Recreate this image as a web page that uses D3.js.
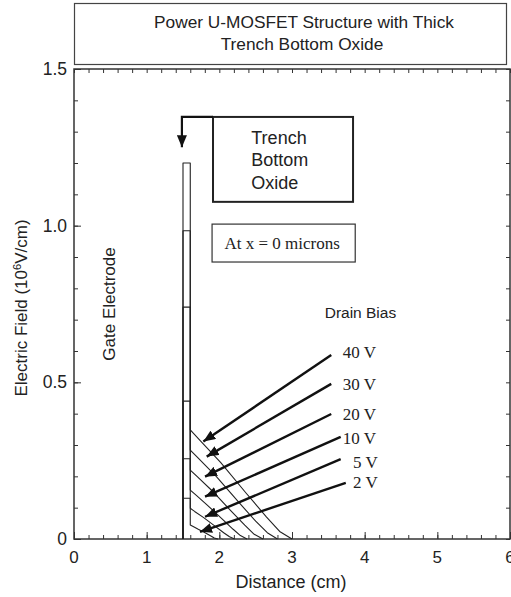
<!DOCTYPE html>
<html>
<head>
<meta charset="utf-8">
<script src="https://d3js.org/d3.v7.min.js"></script>
<style>
  body { margin: 0; background: #fff; }
  svg { display: block; }
  text { font-family: "Liberation Sans", Arial, sans-serif; fill: #222; }
  .serif { font-family: "Liberation Serif", "Times New Roman", serif; }
</style>
</head>
<body>
<div id="chart"></div>
<script>
// drain bias values and the field profiles (x in cm, field in 10^6 V/cm)
const biases = ['40 V', '30 V', '20 V', '10 V', '5 V', '2 V'];
const oxideField = [1.2, 0.984, 0.74, 0.44, 0.256, 0.13];
const siliconField = [
	[[1.6, 0.348], [1.74, 0.313], [2.02, 0.244], [2.37, 0.146], [2.65, 0.07], [2.83, 0.024], [3.0, 0]],
	[[1.6, 0.284], [1.72, 0.256], [1.96, 0.199], [2.26, 0.119], [2.5, 0.057], [2.66, 0.02], [2.8, 0]],
	[[1.6, 0.22], [1.7, 0.198], [1.9, 0.154], [2.15, 0.092], [2.35, 0.044], [2.48, 0.015], [2.6, 0]],
	[[1.6, 0.156], [1.68, 0.14], [1.83, 0.109], [2.03, 0.066], [2.19, 0.031], [2.29, 0.011], [2.38, 0]],
	[[1.6, 0.098], [1.66, 0.088], [1.78, 0.069], [1.94, 0.041], [2.06, 0.02], [2.14, 0.007], [2.21, 0]],
	[[1.6, 0.045], [1.64, 0.04], [1.71, 0.031], [1.81, 0.019], [1.89, 0.009], [1.93, 0.003], [1.98, 0]]
];
const oxideStart = 1.5;
const oxideEnd = 1.6;

// arrow annotations: start near label, tip on curve
const arrowFrom = [[3.54, 0.587], [3.54, 0.495], [3.54, 0.399], [3.67, 0.326], [3.67, 0.255], [3.74, 0.179]];
const arrowTo = [[1.78, 0.311], [1.826, 0.263], [1.803, 0.199], [1.803, 0.135], [1.803, 0.071], [1.734, 0.023]];
const labelPos = [[3.7, 0.578], [3.7, 0.475], [3.7, 0.381], [3.7, 0.303], [3.84, 0.227], [3.84, 0.163]];

const xTicks = [0, 1, 2, 3, 4, 5, 6];
const yTicks = [0, 0.5, 1.0, 1.5];
const yTickLabels = ['0', '0.5', '1.0', '1.5'];

const W = 511, H = 597;
const margins = { left: 74, right: 1, top: 69, bottom: 58 };
const iw = W - margins.left - margins.right;
const ih = H - margins.top - margins.bottom;

const svg = d3.select('#chart').append('svg')
	.attr('width', W)
	.attr('height', H);

const x = d3.scaleLinear().domain([0, 6]).range([0, iw]);
const y = d3.scaleLinear().domain([0, 1.5]).range([ih, 0]);

// title box
svg.append('rect')
	.attr('x', 74.5).attr('y', 3.5)
	.attr('width', 432).attr('height', 61)
	.attr('fill', 'none').attr('stroke', '#444').attr('stroke-width', 1.2);
svg.append('text')
	.attr('x', 304).attr('y', 28)
	.attr('text-anchor', 'middle').attr('font-size', 17.3)
	.text('Power U-MOSFET Structure with Thick');
svg.append('text')
	.attr('x', 302).attr('y', 50)
	.attr('text-anchor', 'middle').attr('font-size', 17.3)
	.text('Trench Bottom Oxide');

const g = svg.append('g')
	.attr('transform', 'translate(' + margins.left + ',' + margins.top + ')');

// ticks, inward on all sides
const xMinor = d3.range(0, 6.001, 0.2);
const yMinor = d3.range(0, 1.501, 0.1);
g.append('g').call(d3.axisBottom(x).tickValues(xMinor).tickSize(-4).tickFormat(''))
	.attr('transform', 'translate(0,' + ih + ')');
g.append('g').call(d3.axisTop(x).tickValues(xMinor).tickSize(-4).tickFormat(''));
g.append('g').call(d3.axisLeft(y).tickValues(yMinor).tickSize(-4).tickFormat(''));
g.append('g').call(d3.axisRight(y).tickValues(yMinor).tickSize(-4).tickFormat(''))
	.attr('transform', 'translate(' + iw + ',0)');
g.append('g').call(d3.axisBottom(x).tickValues(xTicks).tickSize(-7).tickFormat(''))
	.attr('transform', 'translate(0,' + ih + ')');
g.append('g').call(d3.axisLeft(y).tickValues(yTicks).tickSize(-7).tickFormat(''));
g.selectAll('.domain').remove();
g.selectAll('.tick line').attr('stroke', '#333').attr('stroke-width', 1);

// frame
g.append('rect')
	.attr('width', iw).attr('height', ih)
	.attr('fill', 'none').attr('stroke', '#333').attr('stroke-width', 1.5);

// tick labels
g.selectAll('.xlab').data(xTicks).enter().append('text')
	.attr('x', d => x(d)).attr('y', ih + 24)
	.attr('text-anchor', 'middle').attr('font-size', 17)
	.text(d => d);
g.selectAll('.ylab').data(yTicks).enter().append('text')
	.attr('x', -7).attr('y', d => y(d) + 6)
	.attr('text-anchor', 'end').attr('font-size', 17.5)
	.text((d, i) => yTickLabels[i]);

// axis titles
svg.append('text')
	.attr('x', 291).attr('y', 588)
	.attr('text-anchor', 'middle').attr('font-size', 18)
	.text('Distance (cm)');
const yt = svg.append('text')
	.attr('transform', 'translate(27,' + (margins.top + ih / 2 + 4) + ') rotate(-90)')
	.attr('text-anchor', 'middle').attr('font-size', 17);
yt.append('tspan').text('Electric Field (10');
yt.append('tspan').attr('font-size', 11).attr('dy', -6).text('6');
yt.append('tspan').attr('dy', 6).text('V/cm)');

// field profiles
const lineGen = d3.line().x(d => x(d[0])).y(d => y(d[1]));
biases.forEach((b, i) => {
	const pts = [[oxideStart, 0], [oxideStart, oxideField[i]], [oxideEnd, oxideField[i]]]
		.concat(siliconField[i]);
	g.append('path')
		.attr('d', lineGen(pts))
		.attr('fill', 'none')
		.attr('stroke', '#222')
		.attr('stroke-width', 1.1)
		.attr('stroke-linejoin', 'round');
});

// arrows
const defs = svg.append('defs');
defs.append('marker')
	.attr('id', 'ah')
	.attr('viewBox', '0 0 12 10')
	.attr('refX', 12).attr('refY', 5)
	.attr('markerWidth', 12).attr('markerHeight', 10)
	.attr('markerUnits', 'userSpaceOnUse')
	.attr('orient', 'auto')
	.append('path').attr('d', 'M0,0 L12,5 L0,10 Z').attr('fill', '#111');

biases.forEach((b, i) => {
	g.append('line')
		.attr('x1', x(arrowFrom[i][0])).attr('y1', y(arrowFrom[i][1]))
		.attr('x2', x(arrowTo[i][0])).attr('y2', y(arrowTo[i][1]))
		.attr('stroke', '#111').attr('stroke-width', 2.4)
		.attr('marker-end', 'url(#ah)');
	g.append('text')
		.attr('class', 'serif')
		.attr('x', x(labelPos[i][0])).attr('y', y(labelPos[i][1]))
		.attr('font-size', 17)
		.text(b);
});

g.append('text')
	.attr('x', x(3.45)).attr('y', y(0.705))
	.attr('font-size', 15.5)
	.text('Drain Bias');

// gate electrode label
g.append('text')
	.attr('transform', 'translate(' + x(0.57) + ',' + y(0.75) + ') rotate(-90)')
	.attr('text-anchor', 'middle').attr('font-size', 17)
	.text('Gate Electrode');

// trench bottom oxide box with pointer
g.append('rect')
	.attr('x', x(1.913)).attr('y', y(1.347))
	.attr('width', x(3.84) - x(1.913)).attr('height', y(1.076) - y(1.347))
	.attr('fill', '#fff').attr('stroke', '#222').attr('stroke-width', 2);
['Trench', 'Bottom', 'Oxide'].forEach((t, i) => {
	g.append('text')
		.attr('x', x(2.44)).attr('y', y(1.262) + i * 22.5)
		.attr('font-size', 18)
		.text(t);
});
g.append('path')
	.attr('d', 'M' + x(1.913) + ',' + y(1.347) + 'H' + x(1.485) + 'V' + y(1.25))
	.attr('fill', 'none').attr('stroke', '#111').attr('stroke-width', 2.2)
	.attr('marker-end', 'url(#ah)');

// position note
g.append('rect')
	.attr('x', x(1.9)).attr('y', y(1.005))
	.attr('width', x(3.87) - x(1.9)).attr('height', y(0.884) - y(1.005))
	.attr('fill', '#fff').attr('stroke', '#333').attr('stroke-width', 1.2);
g.append('text')
	.attr('class', 'serif')
	.attr('x', x(2.07)).attr('y', y(0.925))
	.attr('font-size', 17)
	.text('At x = 0 microns');
</script>
</body>
</html>
